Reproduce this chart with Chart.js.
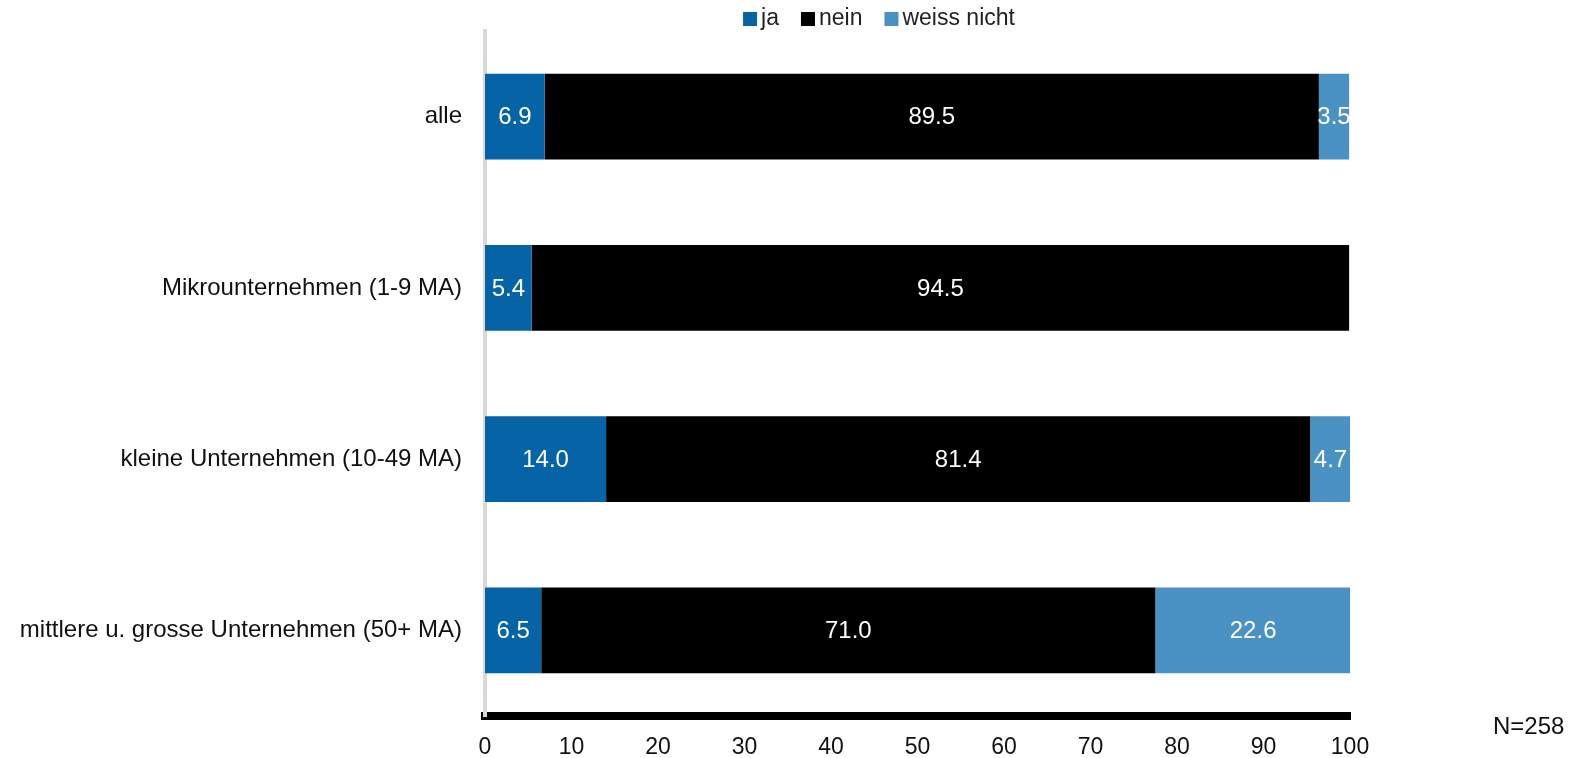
<!DOCTYPE html>
<html>
<head>
<meta charset="utf-8">
<script src="https://cdn.jsdelivr.net/npm/chart.js@4/dist/chart.umd.min.js"></script>
<style>
  html, body { margin: 0; padding: 0; background: #fff; overflow: hidden; }
  #wrap { width: 1578px; height: 758px; position: relative; overflow: hidden; }
  canvas { display: block; }
</style>
</head>
<body>
<div id="wrap"><canvas id="c"></canvas></div>
<script>
const categories = ['alle', 'Mikrounternehmen (1-9 MA)', 'kleine Unternehmen (10-49 MA)', 'mittlere u. grosse Unternehmen (50+ MA)'];
const seriesNames = ['ja', 'nein', 'weiss nicht'];
const jaValues = [6.9, 5.4, 14.0, 6.5];
const neinValues = [89.5, 94.5, 81.4, 71.0];
const weissNichtValues = [3.5, 0, 4.7, 22.6];
const xTicks = [0, 10, 20, 30, 40, 50, 60, 70, 80, 90, 100];
const noteText = 'N=258';

const colors = ['#0563a6', '#000000', '#4a92c3'];
const FONT = "'Liberation Sans', Arial, sans-serif";

const dataLabelPlugin = {
  id: 'dataLabels',
  afterDatasetsDraw(chart) {
    const ctx = chart.ctx;
    ctx.save();
    ctx.font = '24px ' + FONT;
    ctx.fillStyle = '#ffffff';
    ctx.textAlign = 'center';
    ctx.textBaseline = 'middle';
    chart.data.datasets.forEach((ds, di) => {
      const meta = chart.getDatasetMeta(di);
      meta.data.forEach((bar, i) => {
        const v = ds.data[i];
        if (!v) return;
        const x = (bar.x + bar.base) / 2;
        ctx.fillText(v.toFixed(1), x, bar.y + 1);
      });
    });
    ctx.restore();
  }
};

const legendNotePlugin = {
  id: 'legendNote',
  afterDraw(chart) {
    const ctx = chart.ctx;
    ctx.save();
    ctx.font = '23px ' + FONT;
    ctx.textBaseline = 'middle';
    ctx.textAlign = 'left';
    const box = 14, gapText = 4, gapItem = 22;
    const items = chart.data.datasets.map(d => ({ label: d.label, color: d.backgroundColor, w: ctx.measureText(d.label).width }));
    let total = 0;
    items.forEach((it, i) => { total += box + gapText + it.w + (i < items.length - 1 ? gapItem : 0); });
    let x = 879 - total / 2;
    const y = 19;
    items.forEach(it => {
      ctx.fillStyle = it.color;
      ctx.fillRect(x, y - box / 2, box, box);
      x += box + gapText;
      ctx.fillStyle = '#222';
      ctx.fillText(it.label, x, y);
      x += it.w + gapItem;
    });
    ctx.font = '24px ' + FONT;
    ctx.fillStyle = '#111';
    ctx.fillText(noteText, 1493, 727);
    ctx.restore();
  }
};

new Chart(document.getElementById('c'), {
  type: 'bar',
  data: {
    labels: categories,
    datasets: [
      { label: seriesNames[0], data: jaValues, backgroundColor: colors[0] },
      { label: seriesNames[1], data: neinValues, backgroundColor: colors[1] },
      { label: seriesNames[2], data: weissNichtValues, backgroundColor: colors[2] }
    ]
  },
  options: {
    indexAxis: 'y',
    responsive: true,
    maintainAspectRatio: false,
    animation: false,
    devicePixelRatio: 1,
    layout: { padding: { left: 0, right: 228, top: 31, bottom: 0 } },
    datasets: { bar: { categoryPercentage: 1, barPercentage: 0.5, borderWidth: 0 } },
    plugins: { legend: { display: false }, tooltip: { enabled: false } },
    scales: {
      x: {
        stacked: true, min: 0, max: 100, z: 2,
        afterBuildTicks: s => { s.ticks = xTicks.map(v => ({ value: v })); },
        ticks: { font: { size: 23, family: FONT }, color: '#111', padding: 18 },
        grid: { display: false, drawTicks: false },
        border: { display: true, color: '#000', width: 8 },
        afterFit: s => { s.height = 42; }
      },
      y: {
        stacked: true, z: 1,
        ticks: { font: { size: 24, family: FONT }, color: '#111', padding: 23 },
        grid: { display: false, drawTicks: false },
        border: { display: true, color: '#d9d9d9', width: 4 },
        afterFit: s => { s.width = 485; s.paddingTop = 0; s.paddingBottom = 0; }
      }
    }
  },
  plugins: [dataLabelPlugin, legendNotePlugin]
});
</script>
</body>
</html>
